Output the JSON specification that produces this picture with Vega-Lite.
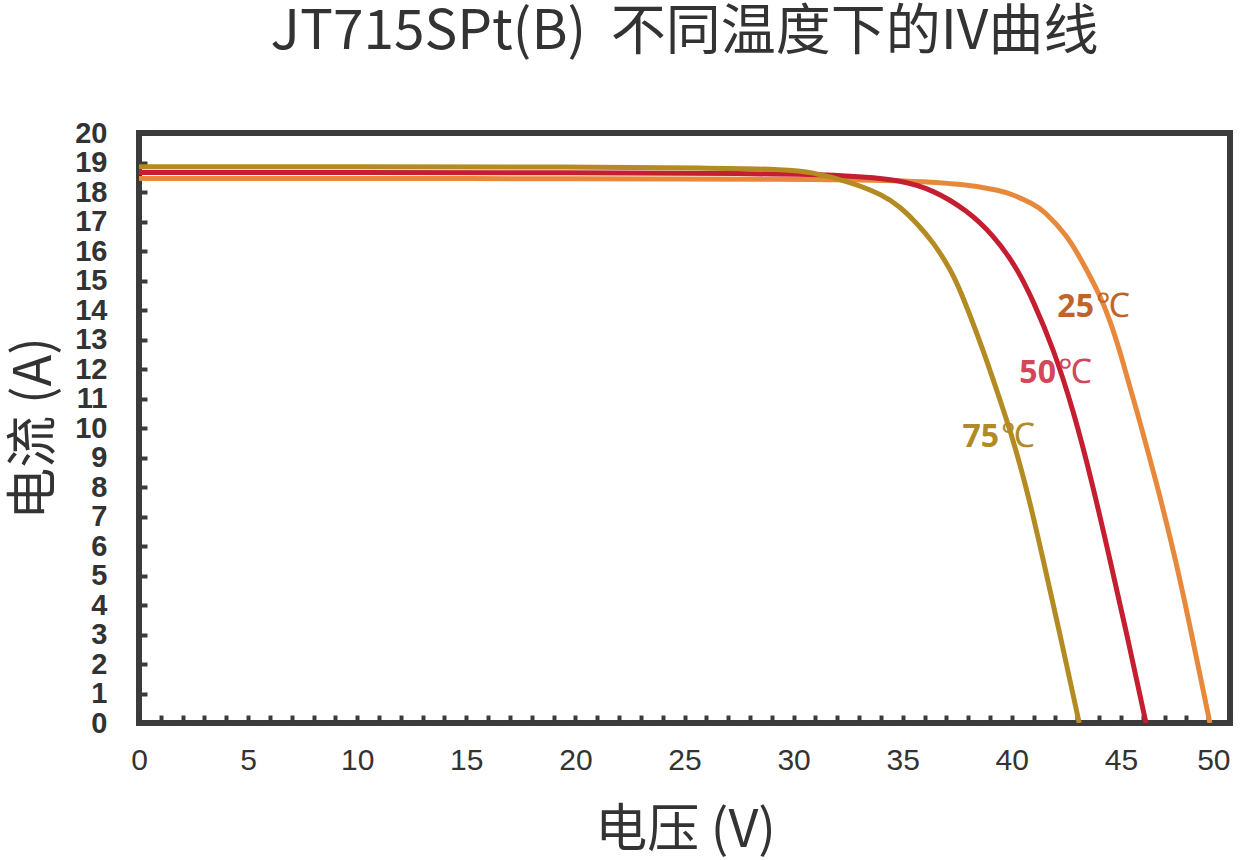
{
  "$schema": "https://vega.github.io/schema/vega-lite/v6.json",
  "width": 1091,
  "height": 590,
  "autosize": "none",
  "padding": {"left": 139, "top": 133, "right": 11, "bottom": 137},
  "background": "white",
  "title": {
    "text": "JT715SPt(B)\u00a0 不同温度下的IV曲线",
    "font": "Noto Sans CJK SC",
    "fontSize": 55,
    "fontWeight": "normal",
    "color": "#333333",
    "anchor": "middle",
    "frame": "group",
    "baseline": "alphabetic",
    "offset": 15
  },
  "config": {"view": {"stroke": "#3b3b3b", "strokeWidth": 6}},
  "datasets": {
    "iv": [
      {"temp": "25℃", "V": 0, "I": 18.46},
      {"temp": "25℃", "V": 10, "I": 18.46},
      {"temp": "25℃", "V": 20, "I": 18.45},
      {"temp": "25℃", "V": 30, "I": 18.44},
      {"temp": "25℃", "V": 34.88, "I": 18.4},
      {"temp": "25℃", "V": 37.93, "I": 18.27},
      {"temp": "25℃", "V": 39.46, "I": 18.05},
      {"temp": "25℃", "V": 39.92, "I": 17.95},
      {"temp": "25℃", "V": 40.99, "I": 17.6},
      {"temp": "25℃", "V": 41.44, "I": 17.38},
      {"temp": "25℃", "V": 42.52, "I": 16.55},
      {"temp": "25℃", "V": 43.26, "I": 15.6},
      {"temp": "25℃", "V": 44.04, "I": 14.5},
      {"temp": "25℃", "V": 44.5, "I": 13.65},
      {"temp": "25℃", "V": 44.96, "I": 12.6},
      {"temp": "25℃", "V": 45.72, "I": 10.61},
      {"temp": "25℃", "V": 46.65, "I": 8.1},
      {"temp": "25℃", "V": 47.56, "I": 5.4},
      {"temp": "25℃", "V": 48.3, "I": 2.8},
      {"temp": "25℃", "V": 49.08, "I": 0},
      {"temp": "50℃", "V": 0, "I": 18.66},
      {"temp": "50℃", "V": 10, "I": 18.66},
      {"temp": "50℃", "V": 20, "I": 18.65},
      {"temp": "50℃", "V": 28, "I": 18.63},
      {"temp": "50℃", "V": 32.58, "I": 18.57},
      {"temp": "50℃", "V": 34.88, "I": 18.41},
      {"temp": "50℃", "V": 36.4, "I": 18.07},
      {"temp": "50℃", "V": 37.93, "I": 17.39},
      {"temp": "50℃", "V": 39.15, "I": 16.55},
      {"temp": "50℃", "V": 40.22, "I": 15.45},
      {"temp": "50℃", "V": 40.99, "I": 14.3},
      {"temp": "50℃", "V": 41.9, "I": 12.7},
      {"temp": "50℃", "V": 42.82, "I": 10.61},
      {"temp": "50℃", "V": 43.7, "I": 8.1},
      {"temp": "50℃", "V": 44.5, "I": 5.53},
      {"temp": "50℃", "V": 45.35, "I": 2.75},
      {"temp": "50℃", "V": 46.15, "I": 0},
      {"temp": "75℃", "V": 0, "I": 18.86},
      {"temp": "75℃", "V": 10, "I": 18.86},
      {"temp": "75℃", "V": 20, "I": 18.85},
      {"temp": "75℃", "V": 26, "I": 18.82},
      {"temp": "75℃", "V": 29.8, "I": 18.76},
      {"temp": "75℃", "V": 30.75, "I": 18.68},
      {"temp": "75℃", "V": 32.58, "I": 18.35},
      {"temp": "75℃", "V": 34.11, "I": 17.9},
      {"temp": "75℃", "V": 34.88, "I": 17.5},
      {"temp": "75℃", "V": 35.64, "I": 16.95},
      {"temp": "75℃", "V": 36.4, "I": 16.3},
      {"temp": "75℃", "V": 37.17, "I": 15.4},
      {"temp": "75℃", "V": 37.63, "I": 14.7},
      {"temp": "75℃", "V": 38.69, "I": 12.65},
      {"temp": "75℃", "V": 39.46, "I": 10.95},
      {"temp": "75℃", "V": 40.07, "I": 9.59},
      {"temp": "75℃", "V": 40.8, "I": 7.6},
      {"temp": "75℃", "V": 41.44, "I": 5.53},
      {"temp": "75℃", "V": 42.3, "I": 2.7},
      {"temp": "75℃", "V": 43.09, "I": 0}
    ],
    "labels": [
      {"temp": "25℃", "num": "25", "V": 43.81, "I": 14.11},
      {"temp": "50℃", "num": "50", "V": 42.07, "I": 11.86},
      {"temp": "75℃", "num": "75", "V": 39.46, "I": 9.69}
    ]
  },
  "encoding": {
    "x": {
      "field": "V",
      "type": "quantitative",
      "scale": {"domain": [0, 50], "nice": false, "zero": false},
      "axis": {
        "values": [0,1,2,3,4,5,6,7,8,9,10,11,12,13,14,15,16,17,18,19,20,21,22,23,24,25,26,27,28,29,30,31,32,33,34,35,36,37,38,39,40,41,42,43,44,45,46,47,48,49,50],
        "labelExpr": "datum.value % 5 === 0 ? datum.label : ''",
        "labelAlign": {"condition": {"test": "datum.value === 50", "value": "right"}, "value": "center"},
        "domain": false,
        "grid": false,
        "tickSize": -8,
        "tickWidth": 4,
        "tickColor": "#3b3b3b",
        "labelFont": "Liberation Sans",
        "labelFontSize": 30,
        "labelColor": "#333333",
        "labelPadding": 30,
        "labelFlush": false,
        "labelOverlap": false,
        "labelBound": false,
        "title": "电压 (V)",
        "titleFont": "Noto Sans CJK SC",
        "titleFontSize": 52,
        "titleFontWeight": "normal",
        "titleColor": "#333333",
        "titleX": 546,
        "titleY": 107,
        "titleBaseline": "middle"
      }
    },
    "y": {
      "field": "I",
      "type": "quantitative",
      "scale": {"domain": [0, 20], "nice": false},
      "axis": {
        "values": [0,1,2,3,4,5,6,7,8,9,10,11,12,13,14,15,16,17,18,19,20],
        "domain": false,
        "grid": false,
        "tickSize": -8,
        "tickWidth": 4,
        "tickColor": "#3b3b3b",
        "labelFont": "Liberation Sans",
        "labelFontSize": 29,
        "labelFontWeight": "bold",
        "labelColor": "#333333",
        "labelPadding": 40,
        "labelFlush": false,
        "labelOverlap": false,
        "labelBound": false,
        "title": "电流 (A)",
        "titleFont": "Noto Sans CJK SC",
        "titleFontSize": 52,
        "titleFontWeight": "normal",
        "titleColor": "#333333",
        "titleX": -105,
        "titleY": 295,
        "titleBaseline": "middle"
      }
    }
  },
  "resolve": {"scale": {"color": "independent"}},
  "layer": [
    {
      "data": {"name": "iv"},
      "mark": {"type": "line", "interpolate": "basis", "strokeWidth": 5, "clip": true},
      "encoding": {
        "color": {
          "field": "temp",
          "type": "nominal",
          "scale": {"domain": ["25℃", "50℃", "75℃"], "range": ["#E8883A", "#C41E30", "#B38B22"]},
          "legend": null
        }
      }
    },
    {
      "data": {"name": "labels"},
      "mark": {"type": "text", "align": "right", "baseline": "middle", "dx": -1, "font": "Noto Sans", "fontWeight": "bold", "fontSize": 32},
      "encoding": {
        "text": {"field": "num"},
        "color": {
          "field": "temp",
          "type": "nominal",
          "scale": {"domain": ["25℃", "50℃", "75℃"], "range": ["#C0652A", "#D0485A", "#B08B25"]},
          "legend": null
        }
      }
    },
    {
      "data": {"name": "labels"},
      "mark": {"type": "text", "align": "left", "baseline": "middle", "dx": 1, "font": "Liberation Serif", "fontWeight": "normal", "fontSize": 34, "text": "℃"},
      "encoding": {
        "color": {
          "field": "temp",
          "type": "nominal",
          "scale": {"domain": ["25℃", "50℃", "75℃"], "range": ["#C0652A", "#D0485A", "#B08B25"]},
          "legend": null
        }
      }
    }
  ]
}
